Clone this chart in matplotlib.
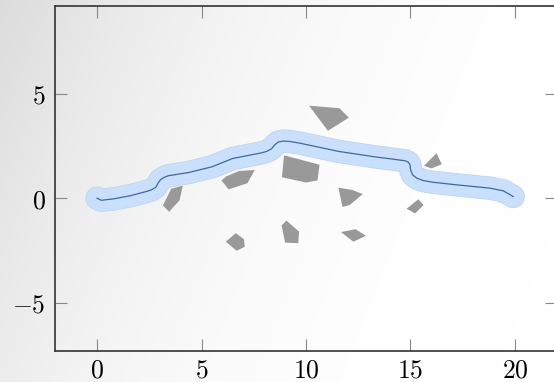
import numpy as np
import matplotlib
matplotlib.use("Agg")
import matplotlib.pyplot as plt
from matplotlib.patches import Polygon

plt.rcParams['mathtext.fontset'] = 'cm'
plt.rcParams['font.family'] = 'DejaVu Serif'

# ---- data ----
path_x = [0.0, 0.2, 0.8, 1.6, 2.36, 2.6, 2.81, 2.92, 3.03, 3.2, 3.4, 4.4, 5.5, 6.5,
          7.79, 8.11, 8.35, 8.51, 8.67, 8.91, 9.23, 9.7, 11.6, 13.2, 14.74, 14.9,
          14.98, 15.01, 15.1, 15.3, 15.62, 16.09, 17.2, 18.81, 19.45, 19.92]
path_y = [0.0, -0.1, -0.03, 0.12, 0.32, 0.4, 0.52, 0.72, 0.88, 0.99, 1.07, 1.23, 1.5, 1.9,
          2.15, 2.23, 2.36, 2.55, 2.68, 2.73, 2.71, 2.63, 2.23, 1.99, 1.79, 1.72,
          1.59, 1.35, 1.12, 0.96, 0.84, 0.76, 0.64, 0.48, 0.35, 0.08]

obst_A = [(3.55, 0.45), (4.1, 0.6), (3.95, -0.1), (3.45, -0.65), (3.15, -0.35)]
obst_B = [(5.95, 0.85), (6.3, 0.42), (7.2, 0.72), (7.55, 1.35), (6.8, 1.3), (6.2, 1.05)]
obst_C = [(8.95, 2.05), (8.85, 1.0), (10.0, 0.75), (10.55, 0.85), (10.65, 1.6)]
obst_D = [(10.15, 4.42), (11.6, 4.3), (12.05, 3.85), (11.05, 3.22)]
obst_E = [(15.65, 1.55), (16.0, 1.42), (16.5, 1.62), (16.25, 2.15)]
obst_F = [(14.82, -0.5), (15.22, -0.73), (15.63, -0.33), (15.38, -0.05)]
obst_G = [(11.55, 0.5), (11.75, -0.42), (12.1, -0.32), (12.72, 0.2), (12.2, 0.4)]
obst_H = [(6.16, -2.08), (6.68, -2.51), (7.07, -2.32), (7.03, -1.96), (6.64, -1.67)]
obst_I = [(8.83, -1.3), (9.0, -2.12), (9.63, -2.15), (9.67, -1.6), (9.07, -1.07)]
obst_J = [(11.68, -1.62), (12.27, -2.08), (12.87, -1.8), (12.37, -1.48)]
obstacles = [obst_A, obst_B, obst_C, obst_D, obst_E, obst_F, obst_G, obst_H, obst_I, obst_J]

xticks = [0, 5, 10, 15, 20]
yticks = [-5, 0, 5]

# ---- figure ----
W, H = 554, 382
fig = plt.figure(figsize=(W / 100, H / 100), dpi=100)

# background gradient
bg = fig.add_axes([0, 0, 1, 1], zorder=-10)
px, py = np.meshgrid(np.arange(W), np.arange(H))
t = (2.5 * px + py) / np.hypot(2.5, 1.0)
deficit = 0.14 * np.clip(1 - t / 600.0, 0, 1) ** 2.5
gray = 1 - deficit
img = np.dstack([gray, gray, gray])
bg.imshow(img, aspect='auto', extent=[0, 1, 0, 1], origin='upper')
bg.set_axis_off()

ax = fig.add_axes([0.0998, 0.0812, 0.905, 0.904])
ax.set_facecolor('none')

for poly in obstacles:
    ax.add_patch(Polygon(poly, closed=True, facecolor='#999999', edgecolor='none', zorder=2))

ax.plot(path_x, path_y, color='#bcd2ee', lw=16.8, solid_capstyle='round',
        solid_joinstyle='round', zorder=3)
ax.plot(path_x, path_y, color='#c9dffb', lw=15.8, solid_capstyle='round',
        solid_joinstyle='round', zorder=3)
ax.plot(path_x, path_y, color='#41689a', lw=0.9, zorder=4,
        solid_joinstyle='round')

ax.set_xlim(-2, 22)
ax.set_ylim(-7.3, 9.2)
ax.set_xticks(xticks, labels=[f'${v}$' for v in xticks])
ax.set_yticks(yticks, labels=[f'${v}$' for v in yticks])
ax.tick_params(direction='in', length=8.5, width=0.8, color='#888888',
               top=True, right=True, labelsize=18.5, pad=5)
ax.tick_params(axis='y', pad=7)
for s in ax.spines.values():
    s.set_color('#333333')
    s.set_linewidth(1.2)

fig.savefig('out.png', dpi=100)
